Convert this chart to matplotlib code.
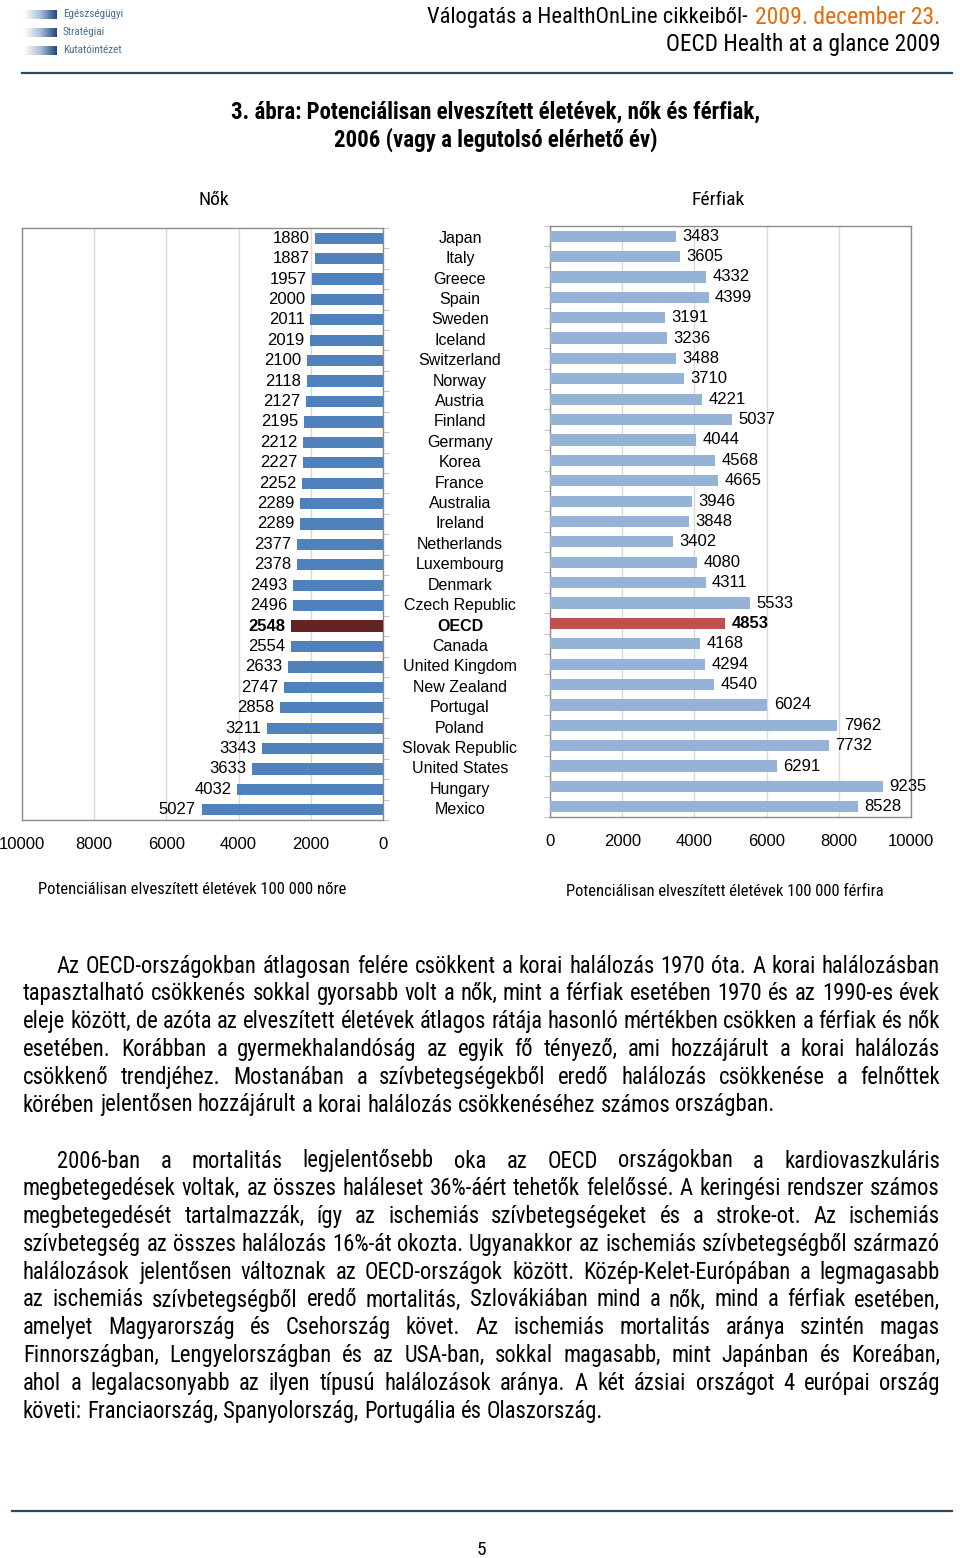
import matplotlib
matplotlib.use('Agg')
import matplotlib.pyplot as plt
import numpy as np
from matplotlib import font_manager, transforms
from matplotlib.colors import LinearSegmentedColormap

# Data (top to bottom)
countries = ['Japan', 'Italy', 'Greece', 'Spain', 'Sweden', 'Iceland', 'Switzerland',
             'Norway', 'Austria', 'Finland', 'Germany', 'Korea', 'France', 'Australia',
             'Ireland', 'Netherlands', 'Luxembourg', 'Denmark', 'Czech Republic', 'OECD',
             'Canada', 'United Kingdom', 'New Zealand', 'Portugal', 'Poland',
             'Slovak Republic', 'United States', 'Hungary', 'Mexico']
women = [1880, 1887, 1957, 2000, 2011, 2019, 2100, 2118, 2127, 2195, 2212, 2227, 2252,
         2289, 2289, 2377, 2378, 2493, 2496, 2548, 2554, 2633, 2747, 2858, 3211, 3343,
         3633, 4032, 5027]
men = [3483, 3605, 4332, 4399, 3191, 3236, 3488, 3710, 4221, 5037, 4044, 4568, 4665,
       3946, 3848, 3402, 4080, 4311, 5533, 4853, 4168, 4294, 4540, 6024, 7962, 7732,
       6291, 9235, 8528]
x_ticks = [0, 2000, 4000, 6000, 8000, 10000]

header_black = 'Válogatás a HealthOnLine cikkeiből-'
header_orange = '2009. december 23.'
header_line2 = 'OECD Health at a glance 2009'
title_lines = ['3. ábra: Potenciálisan elveszített életévek, nők és férfiak,',
               '2006 (vagy a legutolsó elérhető év)']
para1 = [
    'Az OECD-országokban átlagosan felére csökkent a korai halálozás 1970 óta. A korai halálozásban',
    'tapasztalható csökkenés sokkal gyorsabb volt a nők, mint a férfiak esetében 1970 és az 1990-es évek',
    'eleje között, de azóta az elveszített életévek átlagos rátája hasonló mértékben csökken a férfiak és nők',
    'esetében. Korábban a gyermekhalandóság az egyik fő tényező, ami hozzájárult a korai halálozás',
    'csökkenő trendjéhez. Mostanában a szívbetegségekből eredő halálozás csökkenése a felnőttek',
    'körében jelentősen hozzájárult a korai halálozás csökkenéséhez számos országban.',
]
para2 = [
    '2006-ban a mortalitás legjelentősebb oka az OECD országokban a kardiovaszkuláris',
    'megbetegedések voltak, az összes haláleset 36%-áért tehetők felelőssé. A keringési rendszer számos',
    'megbetegedését tartalmazzák, így az ischemiás szívbetegségeket és a stroke-ot. Az ischemiás',
    'szívbetegség az összes halálozás 16%-át okozta. Ugyanakkor az ischemiás szívbetegségből származó',
    'halálozások jelentősen változnak az OECD-országok között. Közép-Kelet-Európában a legmagasabb',
    'az ischemiás szívbetegségből eredő mortalitás, Szlovákiában mind a nők, mind a férfiak esetében,',
    'amelyet Magyarország és Csehország követ. Az ischemiás mortalitás aránya szintén magas',
    'Finnországban, Lengyelországban és az USA-ban, sokkal magasabb, mint Japánban és Koreában,',
    'ahol a legalacsonyabb az ilyen típusú halálozások aránya. A két ázsiai országot 4 európai ország',
    'követi: Franciaország, Spanyolország, Portugália és Olaszország.',
]

_names = {f.name for f in font_manager.fontManager.ttflist}
NARROW = 'Liberation Sans'
for cand in ['Liberation Sans Narrow', 'Arial Narrow', 'Roboto Condensed', 'Archivo Narrow',
             'PT Sans Narrow', 'Open Sans Condensed']:
    if cand in _names:
        NARROW = cand
        break
plt.rcParams['font.family'] = ['Liberation Sans', 'DejaVu Sans']

W, H = 960, 1558
fig = plt.figure(figsize=(W / 100, H / 100), dpi=100)
renderer = fig.canvas.get_renderer()


def fx(x):
    return x / W


def fy(y):
    return 1 - y / H


def width(t):
    return t.get_window_extent(renderer).width


def fit(t, maxw):
    # shrink a text if the narrow face is missing and it runs too wide
    w = width(t)
    if w > maxw:
        t.set_fontsize(t.get_fontsize() * maxw / w)


# ---- page header ----
t_or = fig.text(fx(940), fy(17), header_orange, ha='right', va='center',
                fontsize=17, family=NARROW, color='#E46C0A')
fit(t_or, 185)
t_bl = fig.text(fx(940 - width(t_or) - 7), fy(17), header_black, ha='right', va='center',
                fontsize=17, family=NARROW, color='#000000')
fit(t_bl, 320)
t2 = fig.text(fx(940), fy(45), header_line2, ha='right', va='center',
              fontsize=17, family=NARROW, color='#000000')
fit(t2, 275)
fig.add_artist(plt.Line2D([fx(22), fx(952)], [fy(73), fy(73)], color='#2B4A66', lw=1.6))
fig.add_artist(plt.Line2D([fx(12), fx(952)], [fy(1511), fy(1511)], color='#2B4A66', lw=1.6))
fig.text(fx(481), fy(1550), '5', ha='center', va='center', fontsize=14, family=NARROW)

# logo
logo = fig.add_axes([0, 0, 1, 1], zorder=-1)
logo.set_xlim(0, W)
logo.set_ylim(H, 0)
logo.axis('off')
grad = LinearSegmentedColormap.from_list('g', ['#FFFFFF', '#A9BFDD', '#1F497D'])
g = np.linspace(0, 1, 64).reshape(1, -1)
for yb, txt in zip([14, 32, 50], ['Egészségügyi', 'Stratégiai', 'Kutatóintézet']):
    logo.imshow(g, cmap=grad, extent=(24, 57, yb + 4.5, yb - 4.5), aspect='auto')
    fig.text(fx(63), fy(yb), txt, ha='left', va='center', fontsize=8,
             color='#4A6A98', family=NARROW)

# ---- chart title ----
for i, line in enumerate(title_lines):
    tt = fig.text(fx(496), fy(112 + 28 * i), line, ha='center', va='center',
                  fontsize=16.5, fontweight='bold', family=NARROW)
    fit(tt, 535 if i == 0 else 330)

fig.text(fx(214), fy(200), 'Nők', ha='center', va='center', fontsize=14, family=NARROW)
fig.text(fx(718), fy(200), 'Férfiak', ha='center', va='center', fontsize=14, family=NARROW)

n = len(countries)
pos = np.arange(n)
bold = [c == 'OECD' for c in countries]


def style_axis(ax):
    for s in ax.spines.values():
        s.set_color('#8C8C8C')
        s.set_linewidth(1.0)
    ax.set_xticks(x_ticks)
    ax.grid(axis='x', color='#D9D9D9', lw=1, zorder=0)
    ax.set_axisbelow(True)
    ax.set_yticks(np.arange(n + 1) - 0.5)
    ax.set_yticklabels([])
    ax.tick_params(axis='y', length=4, color='#C8C8C8')
    ax.tick_params(axis='x', length=0, pad=12.5, labelsize=12)
    ax.set_ylim(n - 0.5, -0.5)


# women (left)
axL = fig.add_axes([fx(22), fy(820), fx(383 - 22), (820 - 228) / H])
axL.barh(pos, women, height=0.55, zorder=3,
         color=['#632523' if b else '#4F81BD' for b in bold])
axL.set_xlim(10000, 0)
style_axis(axL)
axL.yaxis.tick_right()
for i, v in enumerate(women):
    axL.annotate(str(v), (v, i), xytext=(-4, 0), textcoords='offset points',
                 ha='right', va='center', fontsize=12,
                 fontweight='bold' if bold[i] else 'normal', annotation_clip=False)

# men (right)
axR = fig.add_axes([fx(550), fy(817), fx(911 - 550), (817 - 226) / H])
axR.barh(pos, men, height=0.55, zorder=3,
         color=['#C0504D' if b else '#95B3D7' for b in bold])
axR.set_xlim(0, 10000)
style_axis(axR)
for i, v in enumerate(men):
    axR.annotate(str(v), (v, i), xytext=(4.5, 0), textcoords='offset points',
                 ha='left', va='center', fontsize=12, clip_on=False,
                 fontweight='bold' if bold[i] else 'normal', annotation_clip=False)

# country names in the middle
tr = transforms.blended_transform_factory(fig.transFigure, axL.transData)
for i, c in enumerate(countries):
    fig.text(fx(460), i, c, transform=tr, ha='center', va='center', fontsize=11.5,
             fontweight='bold' if bold[i] else 'normal')

c1 = fig.text(fx(38), fy(890), 'Potenciálisan elveszített életévek 100 000 nőre',
              ha='left', va='center', fontsize=12.5, family=NARROW)
fit(c1, 312)
c2 = fig.text(fx(566), fy(892), 'Potenciálisan elveszített életévek 100 000 férfira',
              ha='left', va='center', fontsize=12.5, family=NARROW)
fit(c2, 320)


# ---- justified body text ----
BODY = 16.3
X0, X1, INDENT = 23, 940, 34


def natural(line, size, first):
    words = line.split(' ')
    tmp = [fig.text(0, 0, w, fontsize=size, family=NARROW) for w in words]
    tot = sum(width(a) for a in tmp) + 3.5 * (len(words) - 1)
    for a in tmp:
        a.remove()
    return tot / (X1 - X0 - (INDENT if first else 0))


scale = 1.0
for para in (para1, para2):
    for k, line in enumerate(para[:-1]):
        scale = min(scale, 1.0 / natural(line, BODY, k == 0))
BODY *= scale


def justified(lines, y0, step=27.8, size=BODY):
    sp = fig.text(0, 0, 'a a', fontsize=size, family=NARROW)
    aa = fig.text(0, 0, 'aa', fontsize=size, family=NARROW)
    space_w = width(sp) - width(aa)
    sp.remove()
    aa.remove()
    for k, line in enumerate(lines):
        y = fy(y0 + k * step)
        left = X0 + (INDENT if k == 0 else 0)
        words = line.split(' ')
        arts = [fig.text(0, y, w, ha='left', va='center', fontsize=size, family=NARROW)
                for w in words]
        widths = [width(a) for a in arts]
        if k == len(lines) - 1:
            gap = space_w
        else:
            gap = (X1 - left - sum(widths)) / (len(words) - 1)
        x = left
        for a, w in zip(arts, widths):
            a.set_x(fx(x))
            x += w + gap


justified(para1, 966)
justified(para2, 1161)

fig.savefig('out.png', dpi=100)
